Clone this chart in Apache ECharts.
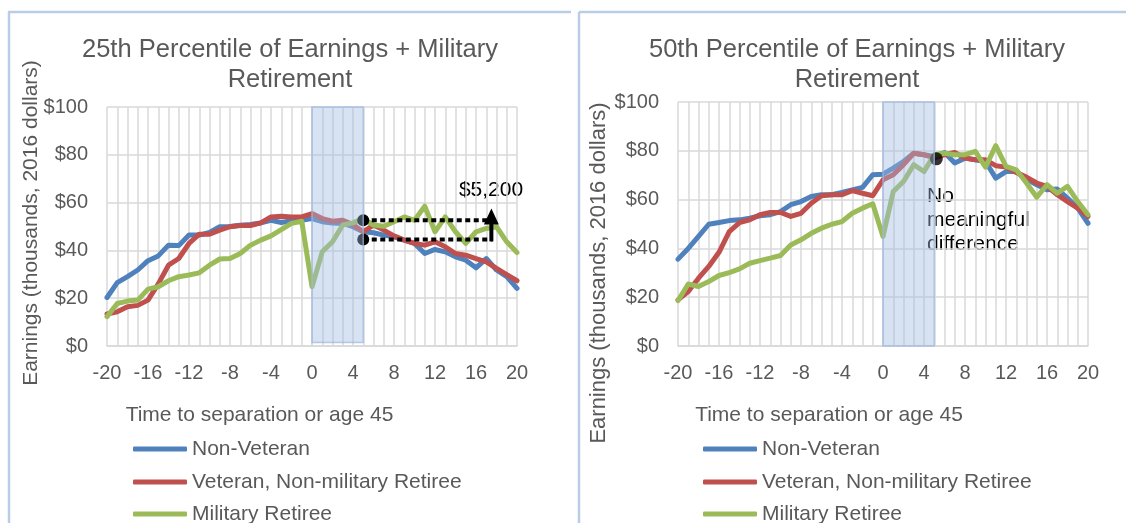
<!DOCTYPE html>
<html>
<head>
<meta charset="utf-8">
<script src="https://cdn.jsdelivr.net/npm/echarts@6/dist/echarts.min.js"></script>
<style>
  html, body { margin: 0; padding: 0; background: #fff; }
  #chart { width: 1126px; height: 523px; }
</style>
</head>
<body>
<div id="chart"></div>
<script>
// time to separation (or age 45), same for both panels
const years = [-20,-19,-18,-17,-16,-15,-14,-13,-12,-11,-10,-9,-8,-7,-6,-5,-4,-3,-2,-1,
               0,1,2,3,4,5,6,7,8,9,10,11,12,13,14,15,16,17,18,19,20]
const xTicks = [-20,-16,-12,-8,-4,0,4,8,12,16,20]
const yTicks = [0,20,40,60,80,100]

// 25th percentile (thousands, 2016 dollars)
const p25NonVet = [20.3,26.5,29,31.8,35.7,37.7,42.2,42,46.4,46.4,47.5,49.9,50,50.5,50.8,51.5,52.6,51.7,52.4,52.6,
                   53.3,52,51.5,51.3,49.9,47.8,47.4,46.4,45.7,44.3,42.9,38.7,40.4,39.4,37.3,35.9,32.7,36.6,31.8,29,24.1]
const p25Vet    = [13.4,14.3,16.4,17,19.2,26,33.8,36.6,42.9,46.8,46.8,48.5,49.9,50.4,50.4,51.5,54,54.3,54,54,
                   55.4,53.3,52.2,52.6,50.8,47.8,50.6,48.5,46.1,44.3,42.9,42.2,43.6,41.5,38.7,38,36.6,35.2,32.5,29.9,27.3]
const p25MilRet = [12.3,17.8,18.8,19.2,23.8,24.8,27.3,29,29.7,30.6,33.8,36.4,36.6,38.7,42.2,44.3,46.1,48.7,51.3,52.2,
                   24.8,39.4,43.6,50.6,51.5,53.3,50.6,50.1,52,54,52.6,58.5,47.8,54,47.8,42.9,47.8,49.2,49.9,43.6,39.1]

// 50th percentile
const p50NonVet = [35.6,40,44.9,49.9,50.6,51.4,51.7,52.4,53.4,53.8,55.1,57.9,59.2,61.3,62,62,62.9,64,65,70.2,
                   70.4,72.9,75.6,79,78.4,77.7,79.3,75,77,76.3,75.6,68.8,71.5,71.5,68.4,66.1,64,64.3,60.6,56.5,50.3]
const p50Vet    = [18.9,22.3,27.8,32.6,38.4,46.9,50.6,51.7,53.8,54.7,54.7,53.1,54.4,58.5,61.6,62,62,63.7,62.6,61.6,
                   68.1,70.2,74.3,79,78.4,77,78.4,79.3,77,76.3,76.3,73.9,73.3,71.1,69.2,66.8,65.4,62,59.2,56.5,53.1]
const p50MilRet = [18.6,25.4,24.4,26.4,28.9,30.1,31.6,33.9,35,36,37.1,41.4,43.5,46.2,48.3,49.9,51,54.4,56.5,58.3,
                   44.9,63.3,67.4,74.3,71.5,78.4,79,78.4,78.4,79.8,73.3,82.1,73.6,72.2,66.8,61,66.1,62.6,65.4,59.2,53.8]

// annotations
const shadeLeft = [0, 5, 1.5, 100]
const shadeRight = [0, 5, 0, 100]
const gapStartX = 5
const gapEndX = 17.6
const gapHigh = 52.6
const gapLow = 44.6
const arrowX = 17.5
const arrowTip = 57.5
const noDiffPoint = [5.2, 76.7]

const seriesNames = ['Non-Veteran', 'Veteran, Non-military Retiree', 'Military Retiree']
const colors = ['#4F81BD', '#C0504D', '#9BBB59']

const FONT = 'Liberation Sans, Arial, sans-serif'
const GREY = '#595959'
const GRID = '#d9d9d9'
const FRAME = '#b9cde5'

const pairs = (ys) => years.map((x, i) => [x, ys[i]])

const makeX = (idx) => ({
  type: 'value', gridIndex: idx, min: -20, max: 20, interval: 4,
  axisLine: { show: true, lineStyle: { color: GRID, width: 1.5 } },
  axisTick: { show: false },
  axisLabel: { color: GREY, fontSize: 20, fontFamily: FONT, margin: 17,
               formatter: v => xTicks.includes(v) ? String(v) : '' },
  splitLine: { show: true, lineStyle: { color: GRID, width: 1.5 } },
  minorTick: { show: false, splitNumber: 4 },
  minorSplitLine: { show: true, lineStyle: { color: GRID, width: 1.5 } }
})

const makeY = (idx) => ({
  type: 'value', gridIndex: idx, min: 0, max: 100, interval: 20,
  axisLine: { show: true, lineStyle: { color: GRID, width: 1.5 } },
  axisTick: { show: false },
  axisLabel: { color: GREY, fontSize: 20, fontFamily: FONT, margin: 19,
               formatter: v => yTicks.includes(v) ? '$' + v : '' },
  splitLine: { show: true, lineStyle: { color: GRID, width: 1.5 } }
})

const lineSeries = (name, data, idx, color) => ({
  name, type: 'line', xAxisIndex: idx, yAxisIndex: idx, data: pairs(data),
  symbol: 'none', z: 2, color,
  lineStyle: { color, width: 5, cap: 'round', join: 'round' }
})

const shadeSeries = (rect, idx) => ({
  type: 'custom', xAxisIndex: idx, yAxisIndex: idx, z: 6, silent: true,
  data: [rect],
  renderItem: (params, api) => {
    const p0 = api.coord([api.value(0), api.value(3)])
    const p1 = api.coord([api.value(1), api.value(2)])
    return {
      type: 'rect',
      shape: { x: p0[0], y: p0[1], width: p1[0] - p0[0], height: p1[1] - p0[1] },
      style: { fill: 'rgba(160,185,225,0.42)', stroke: 'rgba(160,185,225,0.75)', lineWidth: 1.5 }
    }
  }
})

const dottedSeries = (y) => ({
  type: 'line', xAxisIndex: 0, yAxisIndex: 0, z: 3, silent: true,
  data: [
    { value: [gapStartX, y], symbol: 'circle', symbolSize: 12 },
    { value: [gapEndX, y], symbol: 'none' }
  ],
  showSymbol: true, color: '#000',
  itemStyle: { color: '#000' },
  lineStyle: { color: '#000', width: 4, type: [5, 3.5], cap: 'butt' }
})

// vertical arrow from the lower to the upper gap line
const arrowSeries = {
  type: 'custom', xAxisIndex: 0, yAxisIndex: 0, z: 3, silent: true,
  data: [[arrowX, gapLow, arrowTip]],
  renderItem: (params, api) => {
    const a = api.coord([api.value(0), api.value(1)])
    const b = api.coord([api.value(0), api.value(2)])
    const headH = 16, headW = 7.5
    return {
      type: 'group',
      children: [
        { type: 'line', shape: { x1: a[0], y1: a[1] + 2, x2: b[0], y2: b[1] + headH - 1 },
          style: { stroke: '#000', lineWidth: 4 } },
        { type: 'polygon', shape: { points: [[b[0], b[1]], [b[0] - headW, b[1] + headH], [b[0] + headW, b[1] + headH]] },
          style: { fill: '#000' } }
      ]
    }
  }
}

const txt = (text, x, y, opts = {}) => ({
  type: 'text', x, y, rotation: opts.rotation || 0, silent: true,
  style: {
    text, fill: opts.fill || GREY, fontSize: opts.size || 21, fontFamily: FONT,
    textAlign: opts.align || 'center', textVerticalAlign: 'middle',
    lineHeight: opts.lineHeight || 24
  }
})

const frameLine = (x1, y1, x2, y2) => ({
  type: 'line', silent: true, shape: { x1, y1, x2, y2 },
  style: { stroke: FRAME, lineWidth: 2.5 }
})

// one legend per entry so the stack can run past the bottom edge like the original
const legendItem = (name, left, top) => ({
  orient: 'vertical', left, top, data: [name],
  icon: 'roundRect', itemWidth: 54, itemHeight: 5,
  selectedMode: false,
  textStyle: { color: GREY, fontSize: 21, fontFamily: FONT, lineHeight: 24 }
})
const legendTops = [432, 465, 497]

const initChart = () => {
  const myChart = echarts.init(document.getElementById('chart'))

  const legends = []
  seriesNames.forEach((n, i) => {
    legends.push(legendItem(n, 128, legendTops[i]))
    legends.push(legendItem(n, 698, legendTops[i]))
  })

  const titleStyle = { color: GREY, fontSize: 25.5, fontWeight: 'normal', fontFamily: FONT, lineHeight: 30 }

  const option = {
    animation: false,
    backgroundColor: '#fff',
    textStyle: { fontFamily: FONT },
    title: [
      { text: '25th Percentile of Earnings + Military\nRetirement', left: 285, top: 30, textAlign: 'center', textStyle: titleStyle },
      { text: '50th Percentile of Earnings + Military\nRetirement', left: 852, top: 30, textAlign: 'center', textStyle: titleStyle }
    ],
    legend: legends,
    grid: [
      { left: 107, top: 107, width: 410, height: 239 },
      { left: 678, top: 102, width: 410, height: 244 }
    ],
    xAxis: [makeX(0), makeX(1)],
    yAxis: [makeY(0), makeY(1)],
    series: [
      lineSeries(seriesNames[0], p25NonVet, 0, colors[0]),
      lineSeries(seriesNames[1], p25Vet, 0, colors[1]),
      lineSeries(seriesNames[2], p25MilRet, 0, colors[2]),
      lineSeries(seriesNames[0], p50NonVet, 1, colors[0]),
      lineSeries(seriesNames[1], p50Vet, 1, colors[1]),
      lineSeries(seriesNames[2], p50MilRet, 1, colors[2]),
      dottedSeries(gapHigh),
      dottedSeries(gapLow),
      arrowSeries,
      {
        type: 'scatter', xAxisIndex: 1, yAxisIndex: 1, z: 3, silent: true,
        data: [noDiffPoint], symbolSize: 13, itemStyle: { color: '#000' }
      },
      shadeSeries(shadeLeft, 0),
      shadeSeries(shadeRight, 1)
    ],
    graphic: [
      frameLine(8, 12, 571, 12),
      frameLine(9, 12, 9, 523),
      frameLine(579, 12, 1126, 12),
      frameLine(579, 12, 579, 523),
      txt('Earnings (thousands, 2016 dollars)', 31, 223, { rotation: Math.PI / 2 }),
      txt('Earnings (thousands, 2016 dollars)', 599, 273, { rotation: Math.PI / 2, size: 22 }),
      txt('Time to separation or age 45', 259.5, 415),
      txt('Time to separation or age 45', 829, 415),
      txt('$5,200', 491, 190, { fill: '#000' }),
      txt('No\nmeaningful\ndifference', 927, 220, { fill: '#000', align: 'left' })
    ]
  }

  myChart.setOption(option)
}

window.addEventListener('load', () => {
  initChart()
})
</script>
</body>
</html>
